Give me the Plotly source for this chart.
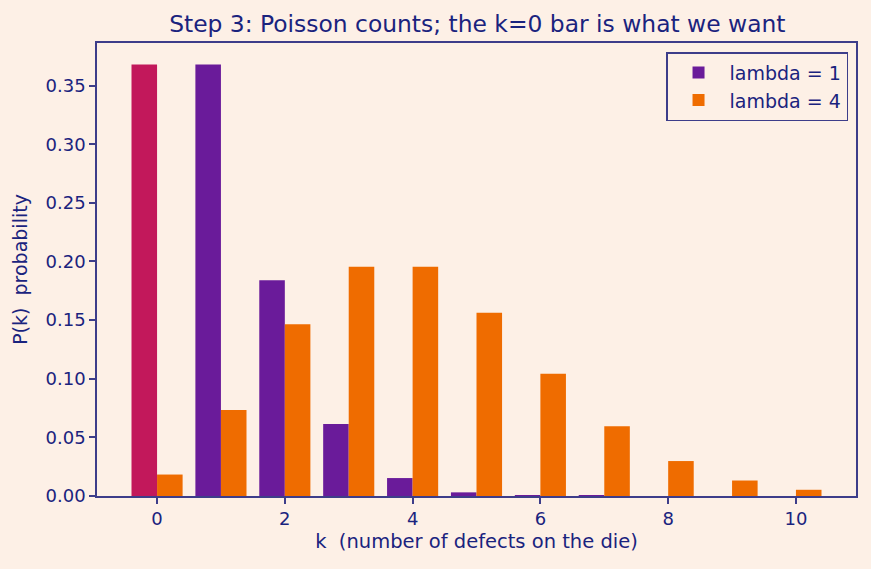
import plotly.graph_objects as go

k_values = list(range(11))
p_lambda1 = [0.3679, 0.3679, 0.1839, 0.0613, 0.0153, 0.0031, 0.0005, 0.0001, 0.0, 0.0, 0.0]
p_lambda4 = [0.0183, 0.0733, 0.1465, 0.1954, 0.1954, 0.1563, 0.1042, 0.0595, 0.0298, 0.0132, 0.0053]
series_names = ["lambda = 1", "lambda = 4"]
title_text = "Step 3: Poisson counts; the k=0 bar is what we want"
x_title = "k  (number of defects on the die)"
y_title = "P(k)  probability"
highlight_k = 0

PURPLE = "#6A1B9A"
ORANGE = "#EF6C00"
CRIMSON = "#C2185B"
NAVY = "#1A237E"
SPINE = "#3D3D8A"
BG = "#FDF0E6"

rest_k = [k for k in k_values if k != highlight_k]
rest_p1 = [p for k, p in zip(k_values, p_lambda1) if k != highlight_k]

fig = go.Figure()
fig.add_trace(go.Bar(x=rest_k, y=rest_p1, name=series_names[0], width=0.4, offset=-0.4,
                     marker=dict(color=PURPLE, line=dict(width=0))))
fig.add_trace(go.Bar(x=k_values, y=p_lambda4, name=series_names[1], width=0.4, offset=0.0,
                     marker=dict(color=ORANGE, line=dict(width=0))))
fig.add_trace(go.Bar(x=[highlight_k], y=[p_lambda1[highlight_k]], name=series_names[0], width=0.4, offset=-0.4,
                     marker=dict(color=CRIMSON, line=dict(width=0)), showlegend=False))

fig.update_layout(
    width=871, height=569,
    paper_bgcolor=BG, plot_bgcolor=BG,
    margin=dict(l=97, r=15, t=43, b=73),
    barmode="overlay",
    font=dict(family="DejaVu Sans", color=NAVY, size=18),
    title=dict(text=title_text, x=0.548, xanchor="center", y=0.958, yanchor="middle",
               font=dict(family="DejaVu Sans", color=NAVY, size=23.4)),
    showlegend=True,
    legend=dict(x=0.9895, y=0.980, xanchor="right", yanchor="top",
                bgcolor=BG, bordercolor=SPINE, borderwidth=1.5,
                font=dict(family="DejaVu Sans", color=NAVY, size=19),
                itemwidth=52),
    xaxis=dict(range=[-0.94, 10.94], tickvals=[0, 2, 4, 6, 8, 10], showgrid=False, zeroline=False,
               showline=True, linecolor=SPINE, linewidth=1.5, mirror=True,
               ticks="outside", ticklen=6, tickwidth=1.5, tickcolor=SPINE,
               tickfont=dict(size=18, color=NAVY),
               title=dict(text=x_title, font=dict(size=19.5, color=NAVY), standoff=6)),
    yaxis=dict(range=[0, 0.3863], tickvals=[0, 0.05, 0.1, 0.15, 0.2, 0.25, 0.3, 0.35], tickformat=".2f",
               showgrid=False, zeroline=False,
               showline=True, linecolor=SPINE, linewidth=1.5, mirror=True,
               ticks="outside", ticklen=6, tickwidth=1.5, tickcolor=SPINE,
               tickfont=dict(size=18, color=NAVY),
               title=dict(text=y_title, font=dict(size=19, color=NAVY), standoff=13)),
)

fig.write_html("out.html")
